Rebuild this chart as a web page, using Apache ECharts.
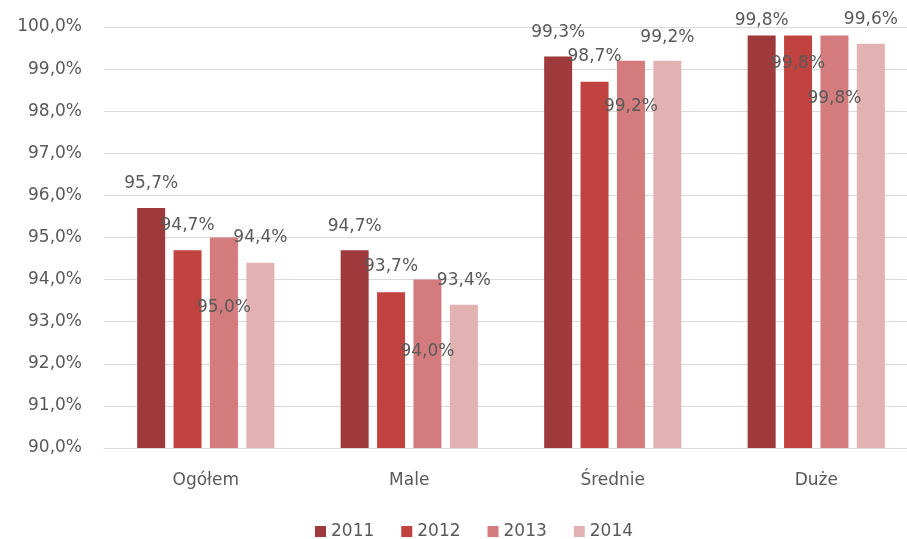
<!DOCTYPE html>
<html>
<head>
<meta charset="utf-8">
<script src="https://cdn.jsdelivr.net/npm/echarts@6/dist/echarts.min.js"></script>
<style>html,body{margin:0;padding:0;background:#fff;overflow:hidden;width:907px;height:539px;}#c{width:918px;height:539px;}</style>
</head>
<body>
<div id="c"></div>
<script>
var categories = ['Ogółem', 'Male', 'Średnie', 'Duże'];
var seriesNames = ['2011', '2012', '2013', '2014'];
var values2011 = [95.7, 94.7, 99.3, 99.8];
var values2012 = [94.7, 93.7, 98.7, 99.8];
var values2013 = [95.0, 94.0, 99.2, 99.8];
var values2014 = [94.4, 93.4, 99.2, 99.6];
var yMin = 90, yMax = 100, yStep = 1;

// label vertical placement (px, relative to bar top), styling only
var labelDy = [
  [-24.5, -24, -24, -15],
  [-25, -26, -25, 28],
  [70, 72, 46, 63],
  [-25, -24, -23, -24]
];
var colors = ['#9E3A3C', '#C0433F', '#D47C7D', '#E2B1B2'];
var allValues = [values2011, values2012, values2013, values2014];

function fmt(v) { return v.toFixed(1).replace('.', ',') + '%'; }

var FONT = 'DejaVu Sans';
var series = allValues.map(function (vals, si) {
  return {
    name: seriesNames[si],
    type: 'bar',
    barWidth: 28,
    barGap: '30%',
    itemStyle: { color: colors[si] },
    data: vals.map(function (v, i) {
      return {
        value: v,
        label: {
          show: true,
          position: 'top',
          distance: 0,
          verticalAlign: 'middle',
          offset: [0, labelDy[si][i]],
          formatter: function (p) { return fmt(p.value); },
          color: '#595959',
          fontFamily: FONT,
          fontSize: 17
        }
      };
    })
  };
});

var chart = echarts.init(document.getElementById('c'), null, { renderer: 'canvas' });
chart.setOption({
  animation: false,
  backgroundColor: '#ffffff',
  grid: { left: 104, right: 0, top: 27, bottom: 91, containLabel: false },
  legend: {
    data: seriesNames,
    left: 310,
    top: 518,
    itemWidth: 11,
    itemHeight: 11,
    itemGap: 27,
    icon: 'rect',
    textStyle: { color: '#595959', fontFamily: FONT, fontSize: 17 }
  },
  xAxis: {
    type: 'category',
    data: categories,
    axisLine: { show: true, lineStyle: { color: '#D9D9D9' } },
    axisTick: { show: false },
    axisLabel: { color: '#595959', fontFamily: FONT, fontSize: 17, margin: 24 }
  },
  yAxis: {
    type: 'value',
    min: yMin,
    max: yMax,
    interval: yStep,
    axisLine: { show: false },
    axisTick: { show: false },
    splitLine: { lineStyle: { color: '#D9D9D9' } },
    axisLabel: { color: '#595959', fontFamily: FONT, fontSize: 17, margin: 22, formatter: fmt }
  },
  series: series
});
</script>
</body>
</html>
